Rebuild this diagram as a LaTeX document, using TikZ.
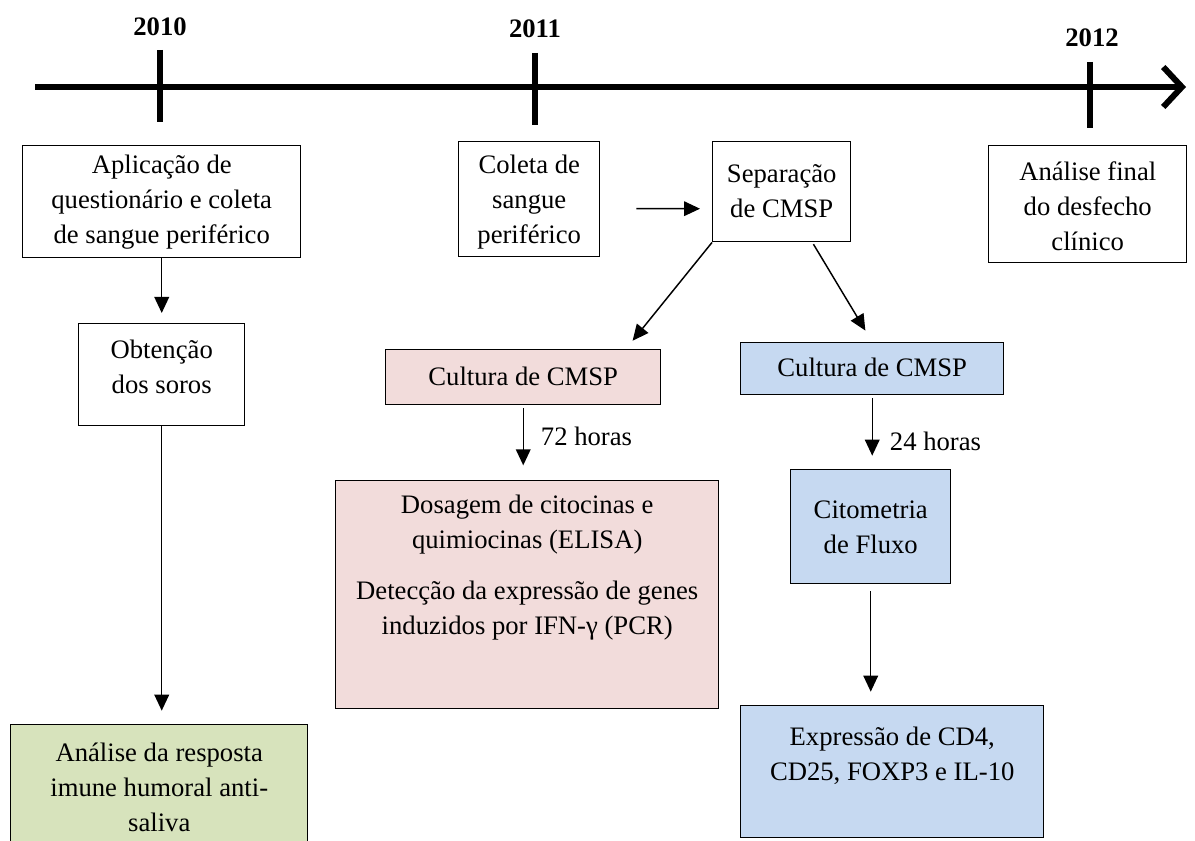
\documentclass[tikz,border=0pt]{standalone}
\usepackage{fontspec}
\setmainfont{Liberation Serif}
\usetikzlibrary{arrows.meta}
\definecolor{rosa}{HTML}{F2DCDB}
\definecolor{azul}{HTML}{C6D9F1}
\definecolor{verde}{HTML}{D7E3BC}
\newcommand{\boxtxt}[4]{\parbox[c][#2][t]{#1}{\centering\rule{0pt}{#3}#4}}

\begin{document}
\begin{tikzpicture}[x=0.75pt,y=0.75pt,yscale=-1,xscale=1,
  every node/.style={font=\fontsize{20}{26.3}\selectfont},
  caixa/.style={draw, line width=1.1pt, anchor=north west, inner sep=0pt},
  seta/.style={line width=1.1pt, -{Triangle[length=12pt,width=11pt]}},
  ano/.style={font=\fontsize{20}{24}\selectfont\bfseries},
  rotulo/.style={right, inner sep=0pt, xshift=12.75pt}]

\useasboundingbox (0,0) rectangle (1195,841);

% linha do tempo
\coordinate (t0) at (35,87);
\coordinate (t1) at (1186,87);
\draw [line width=4.5pt, -{Straight Barb[length=14pt,width=30pt]}] (t0) -- (t1);
\draw [line width=3.8pt] (160,50) -- (160,122);
\draw [line width=3.8pt] (535,53) -- (535,125);
\draw [line width=3.8pt] (1090,62) -- (1090,128);

\node [ano] (a2010) at (160,27) {2010};
\node [ano] (a2011) at (535,29) {2011};
\node [ano] (a2012) at (1092,38) {2012};

% 2010
\node [caixa] (aplic) at (22,145) {\boxtxt{208.5pt}{84pt}{21pt}{Aplicação de\\questionário e coleta\\de sangue periférico}};
\node [caixa] (obt) at (78,323) {\boxtxt{124.5pt}{76.5pt}{26.25pt}{Obtenção\\dos soros}};
\node [caixa, fill=verde] (humoral) at (10,724) {\boxtxt{222.75pt}{94.5pt}{27.75pt}{Análise da resposta\\imune humoral anti-\\saliva}};

% 2011
\node [caixa] (coleta) at (458,141) {\boxtxt{105.75pt}{86.25pt}{24pt}{Coleta de\\sangue\\periférico}};
\node [caixa] (sep) at (712,141) {\boxtxt{103.5pt}{75pt}{30.75pt}{Separação\\de CMSP}};
\node [caixa, fill=rosa] (cultA) at (385,349) {\boxtxt{206.25pt}{41.25pt}{27pt}{Cultura de CMSP}};
\node [caixa, fill=rosa] (dos) at (335,480) {\boxtxt{287.25pt}{171pt}{24.75pt}{Dosagem de citocinas e\\quimiocinas (ELISA)\\[12pt]Detecção da expressão de genes\\induzidos por IFN-γ (PCR)}};
\node [caixa, fill=azul] (cultB) at (740,342) {\boxtxt{197.25pt}{39pt}{25.5pt}{Cultura de CMSP}};
\node [caixa, fill=azul] (cito) at (790,469) {\boxtxt{120pt}{85.5pt}{36.75pt}{Citometria\\de Fluxo}};
\node [caixa, fill=azul] (expr) at (740,705) {\boxtxt{227.25pt}{99pt}{30pt}{Expressão de CD4,\\CD25, FOXP3 e IL-10}};

% 2012
\node [caixa] (final) at (988,145) {\boxtxt{148.5pt}{87.75pt}{26.25pt}{Análise final\\do desfecho\\clínico}};

% setas
\draw [seta, shorten >=7.5pt] (aplic.south) -- (obt.north);
\draw [seta, shorten >=10pt] (obt.south) -- (obt.south |- humoral.north);
\draw [seta, shorten <=27pt, shorten >=9pt] ([yshift=7pt]coleta.east) -- ([yshift=12.75pt]sep.west);
\draw [seta, shorten >=8pt] (sep.south west) -- ([xshift=77pt]cultA.north);
\draw [seta, shorten <=1.5pt, shorten >=10pt] ([xshift=23pt]sep.south) -- (cultB.north);
\draw [seta, shorten <=2pt, shorten >=11pt] (cultA.south) -- (cultA.south |- dos.north) node [rotulo, pos=0.41] {72 horas};
\draw [seta, shorten <=2pt, shorten >=10pt] (cultB.south) -- (cultB.south |- cito.north) node [rotulo, pos=0.63] {24 horas};
\draw [seta, shorten <=5pt, shorten >=10pt] (cito.south) -- (cito.south |- expr.north);

\end{tikzpicture}
\end{document}
